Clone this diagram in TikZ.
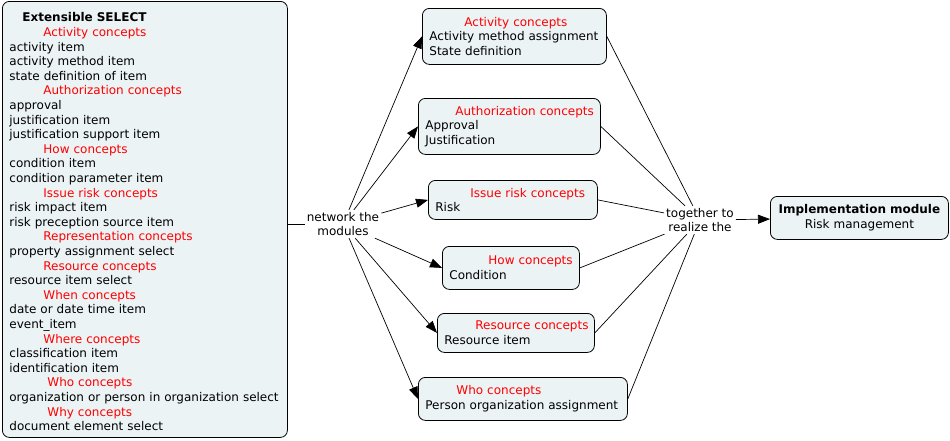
\documentclass[tikz,border=0pt]{standalone}
\usepackage{fontspec}
\setmainfont{DejaVu Sans}
\usepackage{tikz}
\usetikzlibrary{arrows.meta, positioning, calc}
\definecolor{boxfill}{HTML}{EBF3F5}
\definecolor{conceptred}{rgb}{1,0,0}
\tikzset{
  concept/.style={draw, rounded corners=7pt, fill=boxfill, line width=0.8pt,
    anchor=north west, align=left, inner xsep=7pt, inner ysep=0pt},
  link/.style={align=center, inner sep=2pt},
  arr/.style={-{Triangle[length=12pt,width=9pt]}, line width=0.7pt},
}
\newcommand{\hd}[2]{\hspace*{#1pt}\mbox{\textcolor{conceptred}{#2}}}

\begin{document}
\begin{tikzpicture}[x=1pt, y=-1pt, font=\fontsize{12}{14.6}\selectfont]
    \useasboundingbox (0,0) rectangle (950,440);

    % the select list on the left
    \node[concept, text width=271pt, minimum height=436pt] (sel) at (2,1) {%
        \rule{0pt}{14pt}\hspace*{13pt}\textbf{Extensible SELECT}\\
        \hd{34}{Activity concepts}\\
        activity item\\
        activity method item\\
        state definition of item\\
        \hd{34}{Authorization concepts}\\
        approval\\
        justification item\\
        justification support item\\
        \hd{34}{How concepts}\\
        condition item\\
        condition parameter item\\
        \hd{34}{Issue risk concepts}\\
        risk impact item\\
        risk preception source item\\
        \hd{34}{Representation concepts}\\
        property assignment select\\
        \hd{34}{Resource concepts}\\
        resource item select\\
        \hd{34}{When concepts}\\
        date or date time item\\
        event\_item\\
        \hd{34}{Where concepts}\\
        classification item\\
        identification item\\
        \hd{38}{Who concepts}\\
        organization or person in organization select\\
        \hd{38}{Why concepts}\\
        document element select};

    % the modules
    \node[concept, text width=170pt, minimum height=56pt] (act) at (422,8)
        {\hd{35}{Activity concepts}\\Activity method assignment\\State definition};
    \node[concept, text width=168pt, minimum height=56pt] (auth) at (418,98)
        {\hd{30}{Authorization concepts}\\Approval\\Justification};
    \node[concept, text width=155pt, minimum height=39pt] (risk) at (428,180)
        {\hd{35}{Issue risk concepts}\\Risk};
    \node[concept, text width=123pt, minimum height=43pt] (how) at (442,246)
        {\hd{39}{How concepts}\\Condition};
    \node[concept, text width=143pt, minimum height=39pt] (res) at (437,313)
        {\hd{31}{Resource concepts}\\Resource item};
    \node[concept, text width=195pt, minimum height=43pt] (who) at (418,377)
        {\hd{31}{Who concepts}\\Person organization assignment};

    % the result
    \node[concept, align=center, text width=164pt, minimum height=43pt] (impl) at (770,196)
        {\textbf{Implementation module}\\Risk management};

    % linking phrases
    \node[link] (net) at (343,224) {network the\\modules};
    \node[link] (tog) at (700,220) {together to\\realize the};

    \draw[line width=0.7pt] (sel.east |- net.west) -- (net.west);
    \foreach \m in {act, auth, risk, how, res, who}
        \draw[arr] (net) -- (\m.west);
    \foreach \m in {act, auth, risk, how, res, who}
        \draw[line width=0.7pt] (\m.east) -- (tog);
    \draw[arr] (tog) -- (impl);

\end{tikzpicture}
\end{document}
